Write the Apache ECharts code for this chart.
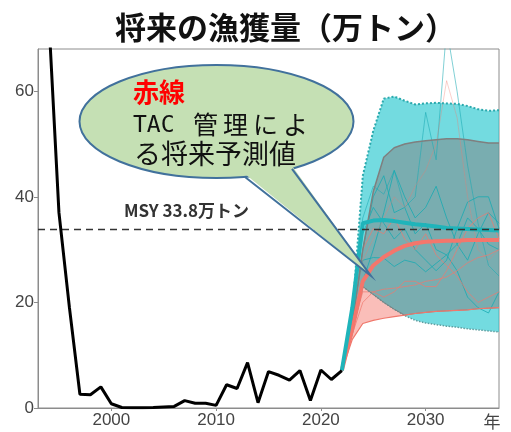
<!DOCTYPE html>
<html>
<head>
<meta charset="utf-8">
<script src="https://cdn.jsdelivr.net/npm/echarts@6/dist/echarts.min.js"></script>
<style>
html,body{margin:0;padding:0;background:#fff;}
#chart_1{width:511px;height:432px;}
</style>
</head>
<body>
<div id="chart_1"></div>
<script>
var Chart_1 = echarts.init(document.getElementById('chart_1'));

// 実績
var histYears = [1994,1995,1996,1997,1998,1999,2000,2001,2002,2003,2004,2005,2006,2007,2008,
                 2009,2010,2011,2012,2013,2014,2015,2016,2017,2018,2019,2020,2021,2022];
var histCatch = [75,37,19,2.6,2.5,4.0,0.8,0.1,0.05,0.05,0.1,0.2,0.3,1.4,0.9,
                 0.9,0.5,4.4,3.7,8.6,1.0,6.9,6.2,5.3,7.1,1.4,7.2,5.4,7.1];

// 将来予測
var projYears  = [2022,2023,2024,2025,2026,2027,2028,2029,2030,2031,2032,2033,2034,2035,2036,2037];
var cyanUpper  = [7.1,18,44,52.5,58.6,59,58.2,57.5,57.7,57.8,57.7,57.6,57.2,56.6,56.3,56.4];
var cyanLower  = [7.1,14.5,23,21.5,20,18.7,17.5,16.6,16.1,15.8,15.5,15.3,15,14.8,14.6,14.4];
var grayUpper  = [7.1,16,30,41,47.5,49.3,50,50.4,50.6,50.8,51,51,50.8,50.5,50.2,50.2];
var grayLower  = [7.1,14.5,23,21.5,20,18.7,17.6,17.9,18.1,18.3,18.4,18.5,18.6,18.8,18.9,19];
var redLower   = [7.1,13,16,16.6,17,17.3,17.6,17.9,18.1,18.3,18.4,18.5,18.6,18.8,18.9,19];
var cyanMedian = [7.1,19,35,35.5,35.6,35.4,35.1,34.8,34.6,34.4,34.1,34.0,33.9,33.8,33.7,33.6];
var redMedian  = [7.1,15,24,27,28.6,29.8,30.7,31.2,31.5,31.6,31.7,31.7,31.8,31.8,31.8,31.8];

// 個別シミュレーション例
var tealRuns = [
    [7.1,20,36,42,40.5,45,38,40,56,47,72,60,46,35,27,25],
    [7.1,18,28,28.5,28.4,26.8,28,27.5,25.8,27.4,29,31,36,34,31,30],
    [7.1,20,33,38,35,32,34,30,28,26,28,34,39,40,40,34],
    [7.1,16,30,40,44,37,38,33,35,30,29,26,21,19,18,22],
    [7.1,14,24,30,37,45,40,36,38,42,36,31,28,33,37,35]
];
var pinkRuns = [
    [7.1,14,20,22,21,22,24,24,23,23,26,30,34,36,37,32],
    [7.1,15,22,22,22.5,22.7,23,23.3,24,24.3,24.8,26,27.5,28.5,29,30],
    [7.1,18,30,34,33,36,32,30,33,29,27,25,22,20,21,22],
    [7.1,17,28,32,36,40,38,42,45,50,62,55,40,30,28,30]
];

var MSY = 33.8;
var xTicks = [2000,2010,2020,2030];
var yTicks = [0,20,40,60];

function pairs(xs, ys){
    var out = [];
    for (var i = 0; i < xs.length; i++){
        out.push([xs[i], ys[i]]);
    }
    return out;
}

function band(lower, upper, fill, z){
    var data = [];
    for (var i = 0; i < projYears.length; i++){
        data.push([projYears[i], lower[i], upper[i]]);
    }
    return {
        type: 'custom',
        silent: true,
        z: z,
        encode: {x: 0, y: [1, 2]},
        data: data,
        renderItem: function(params, api){
            if (params.dataIndex !== 0) return;
            var pts = [];
            for (var i = 0; i < projYears.length; i++){
                pts.push(api.coord([projYears[i], upper[i]]));
            }
            for (var j = projYears.length - 1; j >= 0; j--){
                pts.push(api.coord([projYears[j], lower[j]]));
            }
            return {type: 'polygon', shape: {points: pts}, style: {fill: fill}};
        }
    };
}

function line(xs, ys, color, width, type, z){
    return {
        type: 'line',
        data: pairs(xs, ys),
        symbol: 'none',
        silent: true,
        z: z,
        lineStyle: {color: color, width: width, type: type || 'solid'}
    };
}

var series = [];
series.push(band(redLower, grayLower, 'rgba(245,110,100,0.45)', 1));
series.push(band(cyanLower, cyanUpper, 'rgba(40,200,208,0.65)', 2));
series.push(band(grayLower, grayUpper, 'rgba(128,118,118,0.45)', 3));

for (var i = 0; i < tealRuns.length; i++){
    series.push(line(projYears, tealRuns[i], i == 0 ? 'rgba(25,170,178,0.55)' : 'rgba(25,170,178,0.8)', 1, 'solid', 4));
}
for (var k = 0; k < pinkRuns.length; k++){
    series.push(line(projYears, pinkRuns[k], k == 3 ? 'rgba(240,120,110,0.35)' : 'rgba(240,120,110,0.7)', 1, 'solid', 4));
}

series.push(line(projYears, cyanUpper, '#2aa9ad', 2, 'dotted', 5));
series.push(line(projYears, cyanLower, '#5f9ea0', 1.5, 'dotted', 5));
series.push(line(projYears, grayUpper, '#7f7f7f', 1.5, 'solid', 5));
series.push(line(projYears, grayLower, '#7f7f7f', 1, 'solid', 5));
series.push(line(projYears, redLower, '#f0786c', 1.2, 'solid', 5));
series.push(line(projYears, redMedian, '#f4766c', 4, 'solid', 6));
series.push(line(projYears, cyanMedian, '#1fb4ba', 4, 'solid', 7));
series.push(line([1993, 2037], [MSY, MSY], '#333333', 1.5, [7, 5], 8));
series.push(line(histYears, histCatch, '#000000', 3, 'solid', 9));

// 吹き出し（楕円＋しっぽ）
var bubble = {cx: 216.5, cy: 121.5, rx: 137, ry: 56.5};
var tail = [[245, 177], [371, 276], [292, 168.8]];
var cjk = 'Noto Sans CJK JP';

function txt(s, x, y, size, extra){
    var style = {text: s, fontFamily: cjk, fontSize: size, fill: '#111', verticalAlign: 'middle'};
    for (var key in extra){ style[key] = extra[key]; }
    return {type: 'text', z: 100, x: x, y: y, style: style};
}

var option = {
    animation: false,
    title: {
        text: '将来の漁獲量（万トン）',
        left: 110,
        top: 7,
        textStyle: {
            fontFamily: cjk,
            fontWeight: 'bold',
            fontSize: 31,
            color: '#111'
        }
    },
    grid: {
        left: 38, right: 12, top: 49, bottom: 24,
        show: true,
        borderColor: '#8c8c8c',
        borderWidth: 1
    },
    xAxis: {
        type: 'value',
        min: 1993,
        max: 2037,
        name: '年',
        nameLocation: 'end',
        nameGap: -7,
        nameTextStyle: {
            fontFamily: cjk,
            fontSize: 17,
            color: '#444',
            align: 'center',
            verticalAlign: 'top',
            padding: [5, 0, 0, 0]
        },
        axisLine: {lineStyle: {color: '#8c8c8c'}},
        axisTick: {show: true, length: 3, customValues: xTicks, lineStyle: {color: '#8c8c8c'}},
        axisLabel: {
            customValues: xTicks,
            formatter: function(v){ return String(v); },
            fontFamily: 'Liberation Sans', fontSize: 17, color: '#444', margin: 4
        },
        splitLine: {show: false}
    },
    yAxis: {
        type: 'value',
        min: 0,
        max: 68,
        interval: 20,
        axisLine: {show: true, lineStyle: {color: '#8c8c8c'}},
        axisTick: {show: true, length: 4, customValues: yTicks, lineStyle: {color: '#8c8c8c'}},
        axisLabel: {customValues: yTicks, fontFamily: 'Liberation Sans', fontSize: 17, color: '#444', margin: 4},
        splitLine: {show: false}
    },
    graphic: [
        txt('MSY 33.8万トン', 124, 211, 17, {fontWeight: 'bold', fill: '#333'}),
        {
            type: 'ellipse', z: 90,
            shape: bubble,
            style: {fill: '#c5e0b4', stroke: '#41719c', lineWidth: 2}
        },
        {
            type: 'polygon', z: 91,
            shape: {points: [[tail[0][0], tail[0][1] - 3], tail[1], [tail[2][0], tail[2][1] - 3]]},
            style: {fill: '#c5e0b4'}
        },
        {
            type: 'polyline', z: 92,
            shape: {points: tail},
            style: {stroke: '#41719c', lineWidth: 2, fill: null}
        },
        txt('赤線', 133, 92, 26, {fontWeight: 'bold', fill: '#ff0000'}),
        txt('TAC', 133, 126, 23, {fontFamily: 'DejaVu Sans Mono'}),
        txt('管', 193, 124, 25),
        txt('理', 223, 124, 25),
        txt('に', 253, 124, 25),
        txt('よ', 283, 124, 25),
        txt('る将来予測値', 134, 154, 27)
    ],
    series: series
};

Chart_1.setOption(option);
</script>
</body>
</html>
